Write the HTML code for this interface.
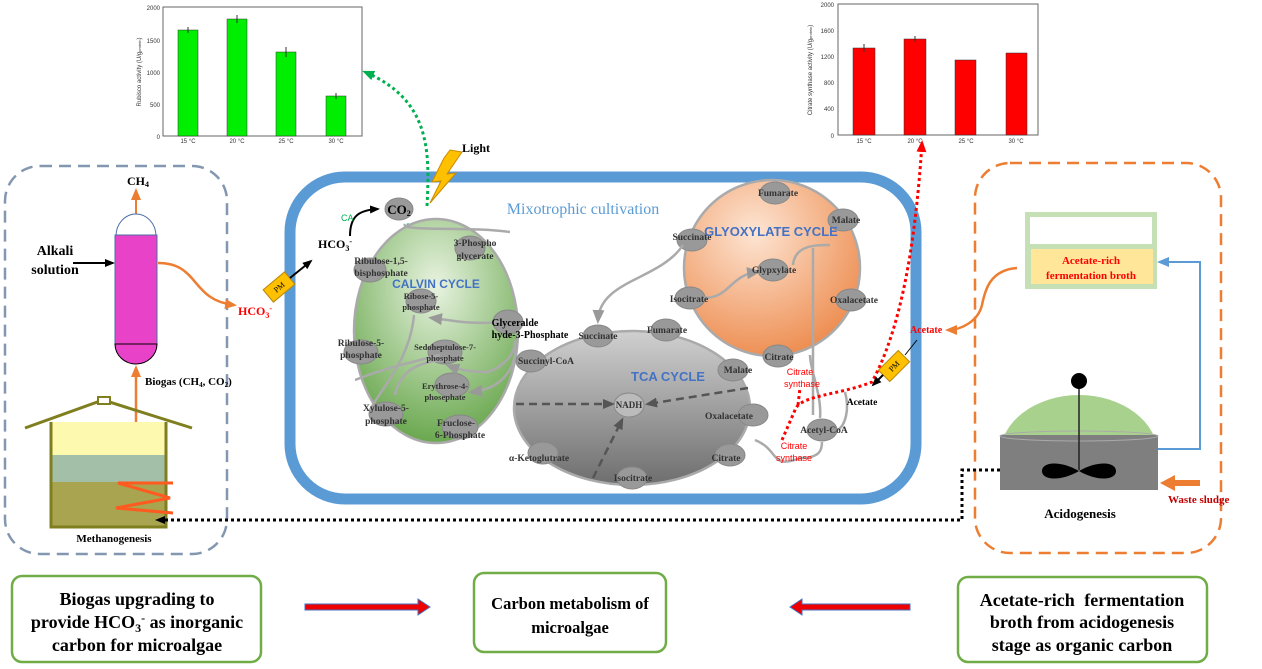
<!DOCTYPE html>
<html><head><meta charset="utf-8"><style>
body{margin:0;background:#fff}
svg{display:block}
text{font-family:"Liberation Serif",serif}
.b{font-weight:bold}
.n{fill:#999;stroke:#888;stroke-width:1}
.s,.s text{font-family:"Liberation Sans",sans-serif}
</style></head><body>
<svg width="1262" height="669" viewBox="0 0 1262 669" xmlns="http://www.w3.org/2000/svg">
<defs>
<marker id="ab" markerUnits="userSpaceOnUse" markerWidth="10" markerHeight="10" refX="8" refY="5" orient="auto"><path d="M0,1L10,5L0,9z" fill="#000"/></marker>
<marker id="ao" markerUnits="userSpaceOnUse" markerWidth="12" markerHeight="12" refX="9" refY="6" orient="auto"><path d="M0,1L12,6L0,11z" fill="#ed7d31"/></marker>
<marker id="ag" markerUnits="userSpaceOnUse" markerWidth="12" markerHeight="12" refX="9" refY="6" orient="auto"><path d="M0,1L12,6L0,11z" fill="#00b050"/></marker>
<marker id="ar" markerUnits="userSpaceOnUse" markerWidth="12" markerHeight="12" refX="9" refY="6" orient="auto"><path d="M0,1L12,6L0,11z" fill="#f00"/></marker>
<marker id="au" markerUnits="userSpaceOnUse" markerWidth="12" markerHeight="12" refX="9" refY="6" orient="auto"><path d="M0,1L12,6L0,11z" fill="#5b9bd5"/></marker>
<marker id="gy" markerUnits="userSpaceOnUse" markerWidth="14" markerHeight="14" refX="10" refY="7" orient="auto"><path d="M0,1L14,7L0,13z" fill="#999"/></marker>
<marker id="dg" markerUnits="userSpaceOnUse" markerWidth="12" markerHeight="12" refX="9" refY="6" orient="auto"><path d="M0,1L12,6L0,11z" fill="#555"/></marker>
<radialGradient id="gc" cx="0.5" cy="0.3" r="0.7"><stop offset="0" stop-color="#e8f3e0"/><stop offset="1" stop-color="#6aa84f"/></radialGradient>
<linearGradient id="tc" x1="0" y1="0" x2="0" y2="1"><stop offset="0" stop-color="#d0d0d0"/><stop offset="1" stop-color="#6e6e6e"/></linearGradient>
<radialGradient id="go" cx="0.4" cy="0.3" r="0.75"><stop offset="0" stop-color="#fde5d3"/><stop offset="1" stop-color="#ed8a4c"/></radialGradient>
</defs>

<g class="s" font-size="6" fill="#333">
<rect x="163" y="7" width="199" height="129" fill="none" stroke="#666" stroke-width="1"/>
<rect x="178" y="30" width="20" height="106" fill="#00ee00" stroke="#333" stroke-width=".5"/>
<rect x="227" y="19" width="20" height="117" fill="#00ee00" stroke="#333" stroke-width=".5"/>
<rect x="276" y="52" width="20" height="84" fill="#00ee00" stroke="#333" stroke-width=".5"/>
<rect x="326" y="96" width="20" height="40" fill="#00ee00" stroke="#333" stroke-width=".5"/>
<path d="M188,27V33M237,15V23M286,47V57M336,93V99" stroke="#333" stroke-width="1"/>
<text x="160" y="10" text-anchor="end">2000</text><text x="160" y="43" text-anchor="end">1500</text><text x="160" y="75" text-anchor="end">1000</text><text x="160" y="107" text-anchor="end">500</text><text x="160" y="139" text-anchor="end">0</text>
<text x="188" y="143" text-anchor="middle">15 °C</text><text x="237" y="143" text-anchor="middle">20 °C</text><text x="286" y="143" text-anchor="middle">25 °C</text><text x="336" y="143" text-anchor="middle">30 °C</text>
<text transform="translate(141,72) rotate(-90)" text-anchor="middle">Rubisco activity (U/g<tspan font-size="4">protein</tspan>)</text>
</g>
<g class="s" font-size="6" fill="#333">
<rect x="838" y="4" width="200" height="131" fill="none" stroke="#666" stroke-width="1"/>
<rect x="853" y="48" width="22" height="87" fill="#f00" stroke="#333" stroke-width=".5"/>
<rect x="904" y="39" width="22" height="96" fill="#f00" stroke="#333" stroke-width=".5"/>
<rect x="955" y="60" width="21" height="75" fill="#f00" stroke="#333" stroke-width=".5"/>
<rect x="1006" y="53" width="21" height="82" fill="#f00" stroke="#333" stroke-width=".5"/>
<path d="M864,44V52M915,36V42" stroke="#333" stroke-width="1"/>
<text x="834" y="7" text-anchor="end">2000</text><text x="834" y="33" text-anchor="end">1600</text><text x="834" y="59" text-anchor="end">1200</text><text x="834" y="85" text-anchor="end">800</text><text x="834" y="111" text-anchor="end">400</text><text x="834" y="138" text-anchor="end">0</text>
<text x="864" y="143" text-anchor="middle">15 °C</text><text x="915" y="143" text-anchor="middle">20 °C</text><text x="966" y="143" text-anchor="middle">25 °C</text><text x="1016" y="143" text-anchor="middle">30 °C</text>
<text transform="translate(812,70) rotate(-90)" text-anchor="middle">Citrate synthase activity (U/g<tspan font-size="4">protein</tspan>)</text>
</g>

<rect x="5" y="166" width="222" height="388" rx="35" fill="none" stroke="#8497b0" stroke-width="2.5" stroke-dasharray="12,7"/>
<rect x="975" y="163" width="246" height="390" rx="35" fill="none" stroke="#ed7d31" stroke-width="2.5" stroke-dasharray="12,7"/>

<text x="138" y="185" class="b" font-size="12" text-anchor="middle">CH<tspan font-size="8" dy="2">4</tspan></text>
<line x1="136" y1="214" x2="136" y2="191" stroke="#ed7d31" stroke-width="2" marker-end="url(#ao)"/>
<path d="M116,236 A20,22 0 0 1 156,236 Z" fill="#fff" stroke="#4a6fa5"/>
<rect x="115" y="235" width="42" height="110" fill="#e843c8" stroke="#4a6fa5"/>
<path d="M115,344 A21,20 0 0 0 157,344 Z" fill="#e843c8" stroke="#000"/>
<text x="55" y="255" class="b" font-size="14" text-anchor="middle">Alkali</text>
<text x="55" y="274" class="b" font-size="14" text-anchor="middle">solution</text>
<line x1="73" y1="263" x2="113" y2="263" stroke="#000" stroke-width="2" marker-end="url(#ab)"/>
<path d="M158,263 C200,263 190,300 234,305" fill="none" stroke="#ed7d31" stroke-width="2.5" marker-end="url(#ao)"/>
<text x="238" y="315" class="b" font-size="12" fill="#f00">HCO<tspan font-size="8" dy="3">3</tspan><tspan font-size="8" dy="-7">-</tspan></text>
<line x1="136" y1="430" x2="136" y2="368" stroke="#ed7d31" stroke-width="2.5" marker-end="url(#ao)"/>
<text x="145" y="385" class="b" font-size="11">Biogas (CH<tspan font-size="7" dy="2">4</tspan><tspan dy="-2">, CO</tspan><tspan font-size="7" dy="2">2</tspan><tspan dy="-2">)</tspan></text>
<path d="M25,428 L103,400 L192,428" fill="none" stroke="#7f7f1f" stroke-width="3"/>
<rect x="98" y="397" width="12" height="7" fill="#fff" stroke="#7f7f1f" stroke-width="2"/>
<path d="M52,422 L165,422 L165,455 L52,455Z" fill="#fdfab0"/>
<rect x="52" y="455" width="113" height="27" fill="#a3bfa8"/>
<rect x="52" y="482" width="113" height="45" fill="#a8a450"/>
<path d="M51,422 V527 H166 V422" fill="none" stroke="#7f7f1f" stroke-width="3"/>
<path d="M173,483 H118 L170,498 L116,508 L173,513" fill="none" stroke="#ff5a1f" stroke-width="3"/>
<text x="114" y="542" class="b" font-size="11" text-anchor="middle">Methanogenesis</text>

<rect x="290" y="177" width="626" height="322" rx="55" fill="#fff" stroke="#5b9bd5" stroke-width="11"/>
<text x="583" y="214" font-size="16" fill="#5b9bd5" text-anchor="middle">Mixotrophic  cultivation</text>
<g transform="translate(279,287) rotate(-40)"><rect x="-14" y="-8" width="28" height="16" fill="#ffc000" stroke="#b8860b"/><text x="0" y="3" font-size="8" text-anchor="middle">PM</text></g>
<line x1="290" y1="278" x2="311" y2="261" stroke="#000" stroke-width="2" marker-end="url(#ab)"/>
<text x="318" y="248" class="b" font-size="12">HCO<tspan font-size="8" dy="3">3</tspan><tspan font-size="8" dy="-7">-</tspan></text>
<path d="M350,236 C350,215 360,210 378,209" fill="none" stroke="#000" stroke-width="2" marker-end="url(#ab)"/>
<text x="341" y="221" class="s" font-size="9" fill="#00b050">CA</text>
<ellipse cx="399" cy="209" rx="14" ry="11" class="n"/>
<text x="399" y="214" class="b" font-size="13" text-anchor="middle">CO<tspan font-size="8" dy="2">2</tspan></text>
<text x="406" y="230" class="s" font-size="9" fill="#00b050">Rubisco</text>
<path d="M444,158 L432,182 L441,181 L430,203 L456,173 L447,174 L462,152 L450,150Z" fill="#ffc000" stroke="#c98a00"/>
<text x="462" y="152" class="b" font-size="12">Light</text>
<path d="M427,206 C430,150 430,100 365,72" fill="none" stroke="#00b050" stroke-width="3" stroke-dasharray="3,3" marker-end="url(#ag)"/>

<ellipse cx="436" cy="331" rx="82" ry="112" fill="url(#gc)" stroke="#aaa" stroke-width="2.5"/>
<path d="M405,224 C400,232 470,226 510,232" fill="none" stroke="#aaa" stroke-width="2.5"/>
<g class="n">
<ellipse cx="370" cy="270" rx="16" ry="12"/><ellipse cx="470" cy="248" rx="15" ry="12"/><ellipse cx="421" cy="301" rx="15" ry="12"/>
<ellipse cx="508" cy="322" rx="15" ry="12"/><ellipse cx="361" cy="352" rx="17" ry="12"/><ellipse cx="445" cy="352" rx="17" ry="12"/>
<ellipse cx="452" cy="385" rx="17" ry="12"/><ellipse cx="386" cy="414" rx="17" ry="12"/><ellipse cx="460" cy="427" rx="18" ry="12"/>
</g>
<g fill="none" stroke="#aaa" stroke-width="2.5">
<path d="M500,322 C470,325 450,320 432,318" marker-end="url(#gy)"/>
<path d="M414,315 C410,360 380,390 370,410"/>
<path d="M450,360 C420,360 400,370 395,395"/>
<path d="M515,340 C515,360 495,370 487,372 C470,372 460,370 449,366" marker-end="url(#gy)"/>
<path d="M516,345 C515,380 490,390 472,392" marker-end="url(#gy)"/>
<path d="M355,380 C380,370 400,365 440,355"/>
</g>
<g class="b" font-size="9.5" fill="#333" text-anchor="middle">
<text x="381" y="264">Ribulose-1,5-</text><text x="381" y="276">bisphosphate</text>
<text x="475" y="246">3-Phospho</text><text x="475" y="259">glycerate</text>
<text x="421" y="299" font-size="8.5">Ribose-5-</text><text x="421" y="310" font-size="8.5">phosphate</text>
<text x="515" y="326" fill="#000" font-size="10">Glyceralde</text><text x="530" y="338" fill="#000" font-size="10">hyde-3-Phosphate</text>
<text x="361" y="346">Ribulose-5-</text><text x="361" y="358">phosphate</text>
<text x="445" y="350" font-size="8.5">Sedoheptulose-7-</text><text x="445" y="361" font-size="8.5">phosphate</text>
<text x="445" y="389" font-size="8.5">Erythrose-4-</text><text x="445" y="400" font-size="8.5">phosephate</text>
<text x="386" y="411">Xylulose-5-</text><text x="386" y="424">phosphate</text>
<text x="456" y="426">Fruclose-</text><text x="460" y="438">6-Phosphate</text>
</g>
<text x="436" y="288" class="s b" font-size="12" fill="#4472c4" text-anchor="middle">CALVIN CYCLE</text>

<ellipse cx="632" cy="408" rx="118" ry="77" fill="url(#tc)" stroke="#aaa" stroke-width="2.5"/>
<g class="n">
<ellipse cx="598" cy="336" rx="15" ry="11"/><ellipse cx="666" cy="330" rx="15" ry="11"/><ellipse cx="733" cy="370" rx="15" ry="11"/>
<ellipse cx="531" cy="361" rx="15" ry="11"/><ellipse cx="753" cy="415" rx="15" ry="11"/><ellipse cx="629" cy="405" rx="15" ry="12" fill="#bbb"/>
<ellipse cx="543" cy="453" rx="15" ry="11"/><ellipse cx="730" cy="455" rx="15" ry="11"/><ellipse cx="632" cy="478" rx="15" ry="11"/>
</g>
<g fill="none" stroke="#555" stroke-width="2.5" stroke-dasharray="8,5">
<path d="M516,404 H612" marker-end="url(#dg)"/>
<path d="M748,388 L648,404" marker-end="url(#dg)"/>
<path d="M593,478 L622,420" marker-end="url(#dg)"/>
</g>
<g class="b" font-size="9.5" fill="#333" text-anchor="middle">
<text x="598" y="339">Succinate</text><text x="667" y="333">Fumarate</text><text x="738" y="373">Malate</text>
<text x="546" y="364">Succinyl-CoA</text><text x="729" y="419">Oxalacetate</text><text x="629" y="408" font-size="9">NADH</text>
<text x="539" y="461">α-Ketoglutrate</text><text x="726" y="461">Citrate</text><text x="633" y="481">Isocitrate</text>
</g>
<text x="668" y="381" class="s b" font-size="13" fill="#4472c4" text-anchor="middle">TCA CYCLE</text>

<circle cx="772" cy="268" r="88" fill="url(#go)" stroke="#aaa" stroke-width="2.5"/>
<g class="n">
<ellipse cx="692" cy="240" rx="15" ry="11"/><ellipse cx="775" cy="193" rx="15" ry="11"/><ellipse cx="843" cy="220" rx="15" ry="11"/>
<ellipse cx="773" cy="270" rx="15" ry="11"/><ellipse cx="690" cy="298" rx="15" ry="11"/><ellipse cx="851" cy="300" rx="15" ry="11"/>
<ellipse cx="778" cy="356" rx="15" ry="11"/><ellipse cx="822" cy="430" rx="15" ry="11"/>
</g>
<g fill="none" stroke="#aaa" stroke-width="2.5">
<path d="M704,298 C730,298 730,275 757,272" marker-end="url(#gy)"/>
<path d="M793,265 C795,245 815,245 830,245"/>
<path d="M813,248 V415"/>
<path d="M683,245 C660,280 600,280 598,320" marker-end="url(#gy)"/>
<path d="M810,355 C810,370 822,395 820,418"/>
<path d="M845,392 C850,410 845,425 838,430"/>
<path d="M755,440 C780,450 770,470 800,458 C820,458 822,450 822,442"/>
</g>
<g class="b" font-size="9.5" fill="#333" text-anchor="middle">
<text x="692" y="240">Succinate</text><text x="778" y="196">Fumarate</text><text x="846" y="223">Malate</text>
<text x="774" y="273">Glypxylate</text><text x="689" y="302">Isocitrate</text><text x="854" y="303">Oxalacetate</text>
<text x="779" y="360">Citrate</text><text x="824" y="433">Acetyl-CoA</text><text x="862" y="405" fill="#000">Acetate</text>
</g>
<text x="771" y="236" class="s b" font-size="13" fill="#4472c4" text-anchor="middle">GLYOXYLATE CYCLE</text>
<g class="s" font-size="9" fill="#f00" text-anchor="middle">
<text x="800" y="375">Citrate</text><text x="802" y="387">synthase</text>
<text x="794" y="449">Citrate</text><text x="794" y="461">synthase</text>
</g>
<path d="M782,440 L795,410 C800,395 840,395 872,382 C900,330 915,250 922,143" fill="none" stroke="#f00" stroke-width="3" stroke-dasharray="3,3" marker-end="url(#ar)"/>
<path d="M798,405 L800,388" fill="none" stroke="#f00" stroke-width="3" stroke-dasharray="3,3"/>
<g transform="translate(894,366) rotate(-45)"><rect x="-14" y="-8" width="28" height="16" fill="#ffc000" stroke="#b8860b"/><text x="0" y="3" font-size="8" text-anchor="middle">PM</text></g>
<line x1="883" y1="375" x2="873" y2="385" stroke="#000" stroke-width="2" marker-end="url(#ab)"/>
<line x1="905" y1="355" x2="917" y2="340" stroke="#000" stroke-width="1"/>
<text x="910" y="333" class="b" font-size="10" fill="#f00">Acetate</text>

<rect x="1025" y="212" width="132" height="77" fill="#c5e0b4"/>
<rect x="1030" y="217" width="122" height="27" fill="#fff"/>
<rect x="1031" y="249" width="122" height="35" fill="#ffe699"/>
<text x="1091" y="264" class="b" font-size="11" fill="#f00" text-anchor="middle">Acetate-rich</text>
<text x="1091" y="279" class="b" font-size="11" fill="#f00" text-anchor="middle">fermentation broth</text>
<path d="M1017,268 C990,270 985,290 982,305 C978,322 960,330 948,330" fill="none" stroke="#ed7d31" stroke-width="2.5" marker-end="url(#ao)"/>
<path d="M1157,449 H1200 V262 H1160" fill="none" stroke="#5b9bd5" stroke-width="2" marker-end="url(#au)"/>
<path d="M1000,455 A79,60 0 0 1 1158,455Z" fill="#a9d18e"/>
<rect x="1000" y="435" width="158" height="55" fill="#7f7f7f"/>
<ellipse cx="1079" cy="436" rx="79" ry="5" fill="none" stroke="#aaa"/>
<line x1="1079" y1="385" x2="1079" y2="470" stroke="#222" stroke-width="1.5"/>
<circle cx="1079" cy="381" r="8" fill="#000"/>
<path d="M1079,471 C1060,460 1042,462 1042,471 C1042,480 1060,482 1079,471 C1098,460 1116,462 1116,471 C1116,480 1098,482 1079,471Z" fill="#000"/>
<path d="M1200,480 H1175 V475 L1160,483 L1175,491 V486 H1200Z" fill="#ed7d31"/>
<text x="1168" y="503" class="b" font-size="11" fill="#c00000">Waste sludge</text>
<text x="1080" y="518" class="b" font-size="13" text-anchor="middle">Acidogenesis</text>
<path d="M1000,470 H962 V520 H157" fill="none" stroke="#000" stroke-width="3" stroke-dasharray="3,3" marker-end="url(#ab)"/>

<rect x="12" y="576" width="249" height="86" rx="10" fill="#fff" stroke="#70ad47" stroke-width="2.5"/>
<g class="b" font-size="18" text-anchor="middle">
<text x="137" y="605">Biogas upgrading to</text>
<text x="137" y="628">provide HCO<tspan font-size="12" dy="4">3</tspan><tspan font-size="12" dy="-10">-</tspan><tspan dy="6"> as inorganic</tspan></text>
<text x="137" y="651">carbon for microalgae</text>
</g>
<rect x="474" y="573" width="192" height="79" rx="10" fill="#fff" stroke="#70ad47" stroke-width="2.5"/>
<g class="b" font-size="16.5" text-anchor="middle"><text x="570" y="609">Carbon metabolism of</text><text x="570" y="633">microalgae</text></g>
<rect x="958" y="577" width="249" height="85" rx="10" fill="#fff" stroke="#70ad47" stroke-width="2.5"/>
<g class="b" font-size="18" text-anchor="middle"><text x="1082" y="606" word-spacing="5">Acetate-rich  fermentation</text><text x="1082" y="628">broth from acidogenesis</text><text x="1082" y="651">stage as organic carbon</text></g>
<path d="M305,604 H418 V599 L430,607 L418,615 V610 H305Z" fill="#e00" stroke="#4472c4"/>
<path d="M910,604 H802 V599 L790,607 L802,615 V610 H910Z" fill="#e00" stroke="#4472c4"/>
</svg>
</body></html>
